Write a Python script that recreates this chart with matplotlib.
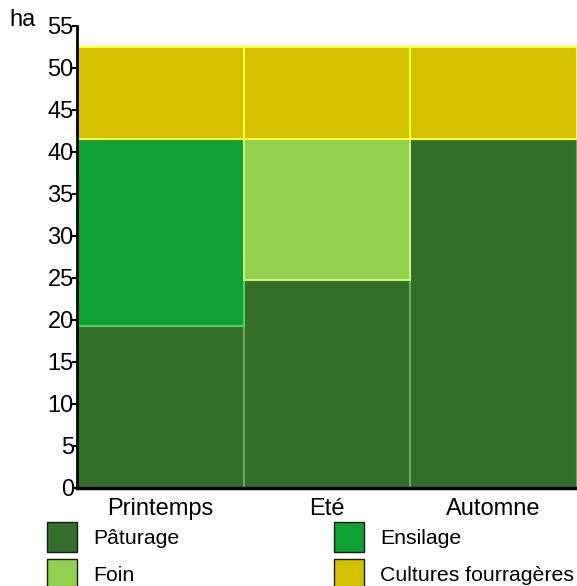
import matplotlib
matplotlib.use("Agg")
import matplotlib.pyplot as plt
import numpy as np
from matplotlib.patches import Patch

plt.rcParams['font.family'] = ['Liberation Sans', 'DejaVu Sans']

categories = ["Printemps", "Eté", "Automne"]
series_names = ["Pâturage", "Ensilage", "Foin", "Cultures fourragères"]
paturage = [19.3, 24.8, 41.5]
ensilage = [22.2, 0.0, 0.0]
foin = [0.0, 16.7, 0.0]
cultures = [11.0, 11.0, 11.0]
yticks = list(range(0, 60, 5))

fills = ["#336f2b", "#0fa033", "#92d050", "#d4c100"]
edges = ["#6aa862", "#4fd060", "#c9f27a", "#ffff3c"]

FS = 17
LFS = 15.3

fig = plt.figure(figsize=(5.77, 5.86), dpi=100)
ax = fig.add_axes([77/577, 98/586, 500/577, 462/586])

x = np.arange(len(categories))
bottom = np.zeros(len(categories))
for vals, fc, ec, name in zip([paturage, ensilage, foin, cultures], fills, edges, series_names):
    vals = np.array(vals)
    ax.bar(x, vals, width=1.0, bottom=bottom, color=fc, edgecolor=ec, linewidth=1.5,
           label=name, zorder=2)
    bottom += vals

ax.set_xlim(-0.5, 2.5)
ax.set_ylim(0, 55)
ax.set_yticks(yticks)
ax.set_yticklabels([str(t) for t in yticks], fontsize=FS)
ax.set_xticks(x)
ax.set_xticklabels(categories, fontsize=FS)
ax.tick_params(axis='x', length=0, pad=7)
ax.tick_params(axis='y', length=3.8, width=1.5, direction='out', pad=-1.5)
ax.set_xticks([0.5, 1.5], minor=True)
ax.tick_params(axis='x', which='minor', length=6, width=1.2, direction='in')
for s in ['top', 'right']:
    ax.spines[s].set_visible(False)
ax.spines['left'].set_linewidth(2)
ax.spines['bottom'].set_linewidth(2.5)
ax.spines['left'].set_zorder(5)
ax.spines['bottom'].set_zorder(5)

fig.text(9/577, 1 - 20/586, "ha", fontsize=FS, va='center', ha='left')

handles = [Patch(facecolor=fills[i], edgecolor="#1a1a1a", linewidth=1.0) for i in range(4)]
order = [0, 2, 1, 3]
leg = fig.legend([handles[i] for i in order], [series_names[i] for i in order],
                 ncol=2, loc='upper left', bbox_to_anchor=(47/577, 1 - 522/586),
                 frameon=False, fontsize=LFS, handlelength=1.41, handleheight=1.795,
                 handletextpad=0.75, columnspacing=7.3, labelspacing=0.34,
                 borderaxespad=0, borderpad=0.0)

fig.savefig("out.png", dpi=100)
